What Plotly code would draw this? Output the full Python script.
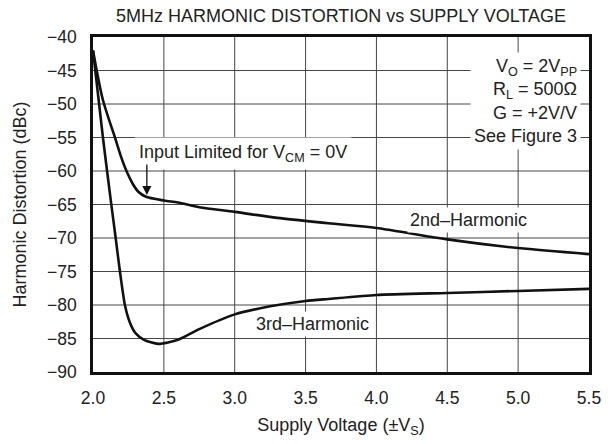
import plotly.graph_objects as go

# Data
v_2nd = [2.0, 2.07, 2.155, 2.2, 2.24, 2.28, 2.32, 2.37, 2.5, 2.6, 2.75, 3.0, 3.3, 3.66, 4.0, 4.5, 5.0, 5.5]
hd_2nd = [-42.0, -49.4, -55.0, -58.0, -60.2, -61.9, -63.1, -63.8, -64.4, -64.7, -65.4, -66.1, -67.0, -67.8, -68.5, -70.2, -71.5, -72.4]

v_3rd = [2.0, 2.07, 2.125, 2.16, 2.19, 2.225, 2.26, 2.3, 2.36, 2.46, 2.6, 2.75, 3.0, 3.25, 3.5, 3.66, 4.0, 4.5, 5.0, 5.5]
hd_3rd = [-42.0, -55.0, -64.3, -70.0, -75.0, -80.0, -82.6, -84.2, -85.2, -85.8, -85.2, -83.6, -81.4, -80.2, -79.4, -79.1, -78.5, -78.2, -77.9, -77.6]

x_ticks = [2.0, 2.5, 3.0, 3.5, 4.0, 4.5, 5.0, 5.5]
x_tick_labels = ["2.0", "2.5", "3.0", "3.5", "4.0", "4.5", "5.0", "5.5"]
y_ticks = [-40, -45, -50, -55, -60, -65, -70, -75, -80, -85, -90]

FONT = "Liberation Sans, Arial, Helvetica, sans-serif"
TXT = 18

fig = go.Figure()
fig.add_trace(go.Scatter(x=v_2nd, y=hd_2nd, mode="lines",
                         line=dict(color="#111111", width=2.6, shape="spline", smoothing=0.8),
                         showlegend=False))
fig.add_trace(go.Scatter(x=v_3rd, y=hd_3rd, mode="lines",
                         line=dict(color="#111111", width=2.6, shape="spline", smoothing=0.6),
                         showlegend=False))

ann_font = dict(family=FONT, size=TXT, color="#222222")

fig.add_annotation(x=5.44, y=-49.6, xref="x", yref="y", xanchor="right", yanchor="middle",
                   align="right", showarrow=False, font=ann_font, bgcolor="white", borderpad=3,
                   text="V<sub>O</sub> = 2V<sub>PP</sub><br>R<sub>L</sub> = 500Ω<br>G = +2V/V<br>See Figure 3")
fig.add_annotation(x=2.29, y=-57.4, xref="x", yref="y", xanchor="left", yanchor="middle",
                   showarrow=False, font=ann_font, bgcolor="white", borderpad=4,
                   text="Input Limited for V<sub>CM</sub> = 0V")
fig.add_annotation(x=4.65, y=-67.3, xref="x", yref="y", xanchor="center", yanchor="middle",
                   showarrow=False, font=ann_font, bgcolor="white", borderpad=2,
                   text="2nd–Harmonic")
fig.add_annotation(x=3.55, y=-82.8, xref="x", yref="y", xanchor="center", yanchor="middle",
                   showarrow=False, font=ann_font, bgcolor="white", borderpad=2,
                   text="3rd–Harmonic")
# arrow
fig.add_annotation(x=2.38, y=-63.6, xref="x", yref="y", ax=0, ay=-32, text="",
                   showarrow=True, arrowhead=2, arrowsize=1.4, arrowwidth=1.3, arrowcolor="#111111")

fig.update_layout(
    template="none",
    width=615, height=444,
    margin=dict(l=93, r=26, t=37, b=72),
    paper_bgcolor="white", plot_bgcolor="white",
    font=dict(family=FONT, size=TXT, color="#222222"),
    title=dict(text="5MHz HARMONIC DISTORTION vs SUPPLY VOLTAGE", x=341/615, xanchor="center",
               y=1-16/444, yanchor="middle", font=dict(family=FONT, size=18, color="#222222")),
)
fig.update_xaxes(range=[2.0, 5.5], tickvals=x_ticks, ticktext=x_tick_labels,
                 showgrid=True, gridcolor="rgb(70,70,70)", gridwidth=1,
                 showline=True, linecolor="rgb(17,17,17)", linewidth=2.5, mirror=True,
                 ticks="outside", ticklen=8, tickcolor="rgba(255,255,255,0)",
                 tickfont=dict(size=17.5), zeroline=False, automargin=False,
                 title=dict(text="Supply Voltage (±V<sub>S</sub>)", standoff=12,
                            font=dict(size=TXT)))
fig.update_yaxes(range=[-90, -40], tickvals=y_ticks,
                 showgrid=True, gridcolor="rgb(70,70,70)", gridwidth=1,
                 showline=True, linecolor="rgb(17,17,17)", linewidth=2.5, mirror=True,
                 ticks="outside", ticklen=10, tickcolor="rgba(255,255,255,0)",
                 tickfont=dict(size=17.5), zeroline=False, automargin=False,
                 title=dict(text="Harmonic Distortion (dBc)", standoff=16,
                            font=dict(size=TXT)))

post = """
document.body.style.margin='0';
var gd=document.getElementById('{plot_id}');
function fixCrisp(){
  gd.querySelectorAll('.crisp, [shape-rendering], rect.bg').forEach(function(e){
    e.style.shapeRendering='geometricPrecision';
    e.setAttribute('shape-rendering','geometricPrecision');
  });
}
fixCrisp();
setTimeout(fixCrisp, 30);
if (gd.on) { gd.on('plotly_afterplot', fixCrisp); }
"""
fig.write_html("out.html", config={"displayModeBar": False}, post_script=post)
